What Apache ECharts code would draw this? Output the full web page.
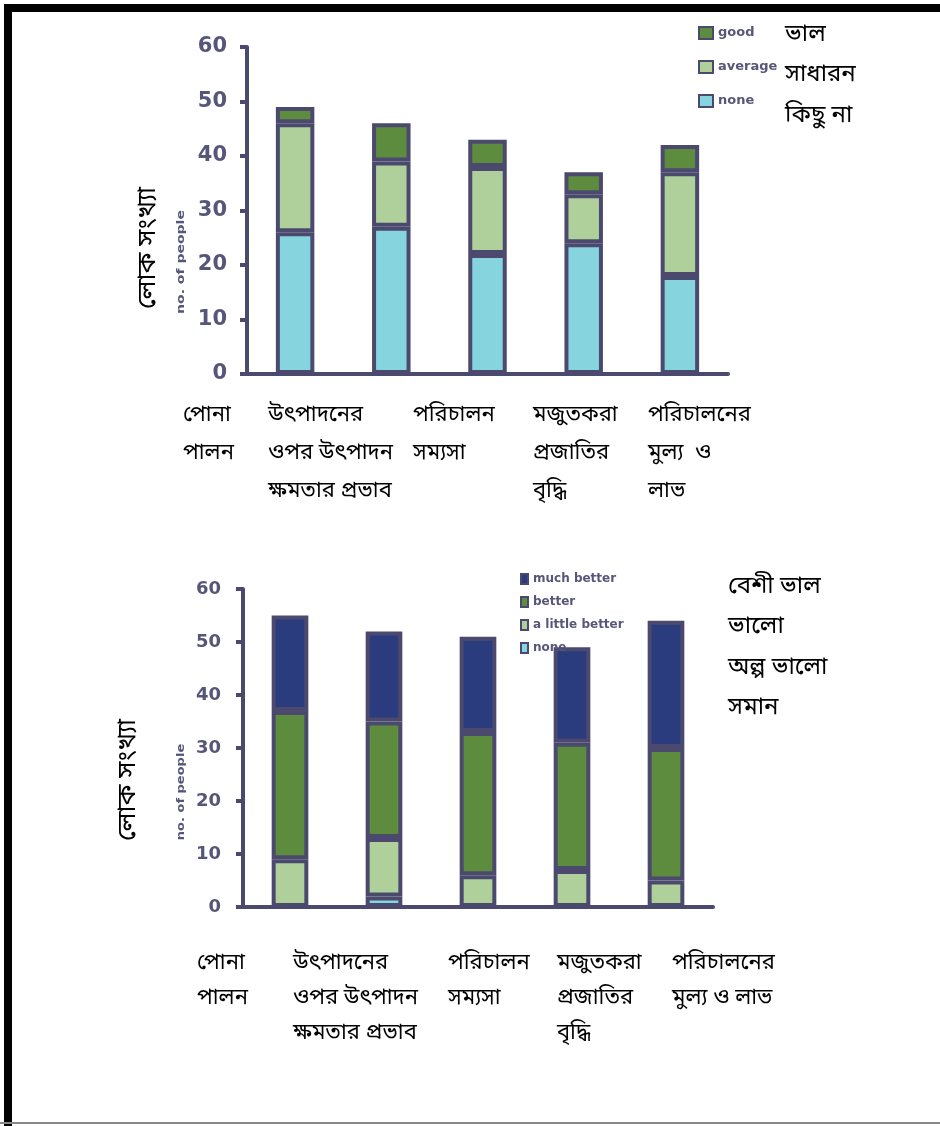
<!DOCTYPE html>
<html>
<head>
<meta charset="utf-8">
<title>লোক সংখ্যা</title>
<script src="https://cdn.jsdelivr.net/npm/echarts@6/dist/echarts.min.js"></script>
<style>
  body { margin: 0; background: #ffffff; }
  #main { width: 940px; height: 1126px; }
</style>
</head>
<body>
<div id="main"></div>
<script>
// categories (same five for both charts, line breaks differ a little)
var categories = ['পোনা পালন', 'উৎপাদনের ওপর উৎপাদন ক্ষমতার প্রভাব', 'পরিচালন সম্যসা', 'মজুতকরা প্রজাতির বৃদ্ধি', 'পরিচালনের মুল্য ও লাভ'];
var catLines1 = ['পোনা\nপালন', 'উৎপাদনের\nওপর উৎপাদন\nক্ষমতার প্রভাব', 'পরিচালন\nসম্যসা', 'মজুতকরা\nপ্রজাতির\nবৃদ্ধি', 'পরিচালনের\nমুল্য  ও\nলাভ'];
var catLines2 = ['পোনা\nপালন', 'উৎপাদনের\nওপর উৎপাদন\nক্ষমতার প্রভাব', 'পরিচালন\nসম্যসা', 'মজুতকরা\nপ্রজাতির\nবৃদ্ধি', 'পরিচালনের\nমুল্য ও লাভ'];

// chart 1 values (bottom to top)
var none1 = [26, 27, 22, 24, 18];
var average1 = [20, 12, 16, 9, 19];
var good1 = [3, 7, 5, 4, 5];

// chart 2 values (bottom to top)
var none2 = [0, 2, 0, 0, 0];
var littleBetter2 = [9, 11, 6, 7, 5];
var better2 = [28, 22, 27, 24, 25];
var muchBetter2 = [18, 17, 18, 18, 24];

// legend names and the Bengali words written next to them
var legend1 = ['good', 'average', 'none'];
var legend1Bn = ['ভাল', 'সাধারন', 'কিছু না'];
var legend2 = ['much better', 'better', 'a little better', 'none'];
var legend2Bn = ['বেশী ভাল', 'ভালো', 'অল্প ভালো', 'সমান'];

var yMin = 0, yMax = 60, yStep = 10;
var yName = 'লোক সংখ্যা';
var ySubName = 'no. of people';

var BN_FONT = "'Noto Sans Bengali', 'Lohit Bengali', 'Vrinda', 'FreeSans', sans-serif";
var dark = '#4b4a6e';
var labelColor = '#56567a';

var myChart = echarts.init(document.getElementById('main'));

function makeBar(name, data, color, idx) {
  return {
    name: name,
    type: 'bar',
    stack: 'chart' + idx,
    xAxisIndex: idx,
    yAxisIndex: idx,
    barWidth: idx === 0 ? '40%' : '39%',
    data: data,
    itemStyle: { color: color, borderColor: dark, borderWidth: 4 },
    emphasis: { disabled: true }
  };
}

function makeX(idx) {
  return {
    type: 'category',
    gridIndex: idx,
    data: categories,
    axisLine: { lineStyle: { color: dark, width: 4 } },
    axisTick: { length: 5, lineStyle: { color: dark, width: 3 } },
    axisLabel: { show: false }
  };
}

function makeY(idx, fontSize, margin) {
  return {
    type: 'value',
    gridIndex: idx,
    min: yMin, max: yMax, interval: yStep,
    splitLine: { show: false },
    axisLine: { show: true, lineStyle: { color: dark, width: 4 } },
    axisTick: { show: true, length: 7, lineStyle: { color: dark, width: 4 } },
    axisLabel: { color: labelColor, fontFamily: 'DejaVu Sans', fontWeight: 'bold', fontSize: fontSize, margin: margin }
  };
}

var cyan = '#86d4de', lightGreen = '#afd09b', green = '#5d8c3e', navy = '#2b3c7e';

var graphics = [
  // page frame (left + top thick, thin line at bottom)
  { type: 'line', shape: { x1: 8, y1: 4, x2: 8, y2: 1126 }, style: { stroke: '#000', lineWidth: 8 } },
  { type: 'line', shape: { x1: 4, y1: 8, x2: 940, y2: 8 }, style: { stroke: '#000', lineWidth: 8 } },
  { type: 'line', shape: { x1: 0, y1: 1123, x2: 940, y2: 1123 }, style: { stroke: '#888', lineWidth: 2 } },
  // rotated y axis titles
  { type: 'text', x: 150, y: 248, rotation: Math.PI / 2, style: { text: yName, font: '26px ' + BN_FONT, fill: '#000', align: 'center', verticalAlign: 'middle' } },
  { type: 'text', x: 130, y: 780, rotation: Math.PI / 2, style: { text: yName, font: '26px ' + BN_FONT, fill: '#000', align: 'center', verticalAlign: 'middle' } },
  { type: 'text', x: 181, y: 262, rotation: Math.PI / 2, scaleX: 1.4, style: { text: ySubName, font: 'bold 10px DejaVu Sans', fill: labelColor, align: 'center', verticalAlign: 'middle' } },
  { type: 'text', x: 181, y: 792, rotation: Math.PI / 2, scaleX: 1.3, style: { text: ySubName, font: 'bold 10px DejaVu Sans', fill: labelColor, align: 'center', verticalAlign: 'middle' } },
  // Bengali legend words
  { type: 'text', left: 785, top: 16, style: { text: legend1Bn.join('\n'), font: '24px ' + BN_FONT, fill: '#000', lineHeight: 40.5 } },
  { type: 'text', left: 728, top: 568, style: { text: legend2Bn.join('\n'), font: '24px ' + BN_FONT, fill: '#000', lineHeight: 40.5 } }
];

// category labels, written as text boxes under each chart
var labelLeft1 = [183, 268, 413, 533, 648];
var labelLeft2 = [197, 293, 448, 557, 672];
catLines1.forEach(function (t, i) {
  graphics.push({ type: 'text', left: labelLeft1[i], top: 398, style: { text: t, font: '22px ' + BN_FONT, fill: '#000', lineHeight: 38 } });
});
catLines2.forEach(function (t, i) {
  graphics.push({ type: 'text', left: labelLeft2[i], top: 947, style: { text: t, font: '22px ' + BN_FONT, fill: '#000', lineHeight: 35 } });
});

var option = {
  animation: false,
  backgroundColor: '#ffffff',
  grid: [
    { left: 247, width: 481, top: 47, height: 327 },
    { left: 243, width: 470, top: 589, height: 318 }
  ],
  legend: [
    { data: legend1, orient: 'vertical', left: 698, top: 26, itemWidth: 14, itemHeight: 12, itemGap: 20, padding: 0,
      icon: 'rect', itemStyle: { borderColor: dark, borderWidth: 2 }, selectedMode: false,
      textStyle: { fontSize: 13, fontWeight: 'bold', color: labelColor, fontFamily: 'DejaVu Sans' } },
    { data: legend2, orient: 'vertical', left: 520, top: 573, itemWidth: 7, itemHeight: 10, itemGap: 11, padding: 0,
      icon: 'rect', itemStyle: { borderColor: dark, borderWidth: 2 }, selectedMode: false,
      textStyle: { fontSize: 12, fontWeight: 'bold', color: labelColor, fontFamily: 'DejaVu Sans' } }
  ],
  xAxis: [makeX(0), makeX(1)],
  yAxis: [makeY(0, 21, 20), makeY(1, 18, 22)],
  series: [
    makeBar('none', none1, cyan, 0),
    makeBar('average', average1, lightGreen, 0),
    makeBar('good', good1, green, 0),
    makeBar('none', none2, cyan, 1),
    makeBar('a little better', littleBetter2, lightGreen, 1),
    makeBar('better', better2, green, 1),
    makeBar('much better', muchBetter2, navy, 1)
  ],
  graphic: graphics
};

myChart.setOption(option);
</script>
</body>
</html>
